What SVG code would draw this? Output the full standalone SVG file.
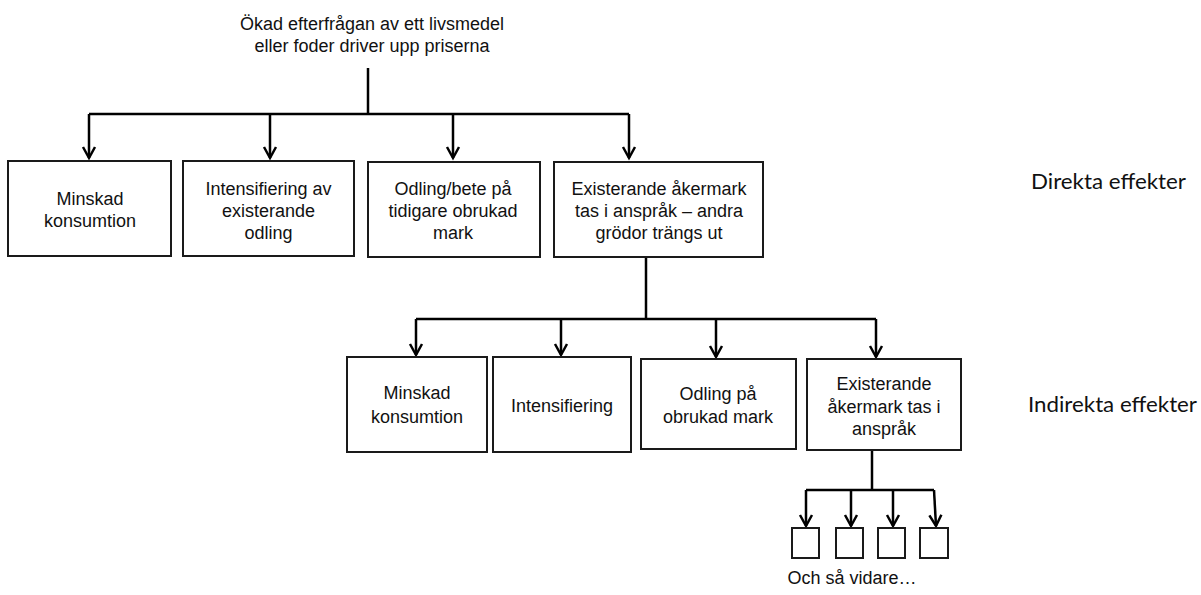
<svg xmlns="http://www.w3.org/2000/svg" width="1201" height="595" viewBox="0 0 1201 595">
<style>
.t{font-family:"Liberation Sans",Arial,sans-serif;font-size:18px;fill:#111;text-anchor:middle}
.s{font-family:Lato,"Open Sans",sans-serif;font-size:22px;fill:#111}
.b{fill:#fff;stroke:#1a1a1a;stroke-width:2}
.c{fill:none;stroke:#000;stroke-width:2.5}
</style>
<defs>
<marker id="arr" markerUnits="userSpaceOnUse" viewBox="-14 -8 16 16" refX="0" refY="0" markerWidth="16" markerHeight="16" orient="auto" overflow="visible">
<path d="M-11,-6 L0,0 L-11,6" fill="none" stroke="#000" stroke-width="2.5"/>
</marker>
</defs>
<rect width="1201" height="595" fill="#fff"/>
<g id="connectors">
<path class="c" d="M368,68 V114"/>
<path class="c" d="M89,114 H629"/>
<path class="c" d="M89,114 V158" marker-end="url(#arr)"/>
<path class="c" d="M270,114 V158" marker-end="url(#arr)"/>
<path class="c" d="M453,114 V158" marker-end="url(#arr)"/>
<path class="c" d="M629,114 V158" marker-end="url(#arr)"/>
<path class="c" d="M646,257 V319"/>
<path class="c" d="M416,319 H876"/>
<path class="c" d="M416,319 V355" marker-end="url(#arr)"/>
<path class="c" d="M561,319 V355" marker-end="url(#arr)"/>
<path class="c" d="M716,319 V357" marker-end="url(#arr)"/>
<path class="c" d="M876,319 V357" marker-end="url(#arr)"/>
<path class="c" d="M872,451 V490"/>
<path class="c" d="M806,490 H934"/>
<path class="c" d="M806,490 V526" marker-end="url(#arr)"/>
<path class="c" d="M851,490 V526" marker-end="url(#arr)"/>
<path class="c" d="M893,490 V526" marker-end="url(#arr)"/>
<path class="c" d="M934,490 L936,526" marker-end="url(#arr)"/>
</g>
<g id="top">
<text class="t" x="372" y="30">Ökad efterfrågan av ett livsmedel</text>
<text class="t" x="372" y="52">eller foder driver upp priserna</text>
</g>
<g id="d1">
<rect class="b" x="8" y="161" width="163" height="95"/>
<text class="t" x="90" y="205">Minskad</text>
<text class="t" x="90" y="227">konsumtion</text>
</g>
<g id="d2">
<rect class="b" x="183" y="161" width="171" height="95"/>
<text class="t" x="268.5" y="195">Intensifiering av</text>
<text class="t" x="268.5" y="217">existerande</text>
<text class="t" x="268.5" y="239">odling</text>
</g>
<g id="d3">
<rect class="b" x="368" y="162" width="172" height="95"/>
<text class="t" x="453" y="195">Odling/bete på</text>
<text class="t" x="453" y="217">tidigare obrukad</text>
<text class="t" x="453" y="239">mark</text>
</g>
<g id="d4">
<rect class="b" x="554" y="162" width="209" height="95"/>
<text class="t" x="659" y="195">Existerande åkermark</text>
<text class="t" x="659" y="217">tas i anspråk – andra</text>
<text class="t" x="659" y="239">grödor trängs ut</text>
</g>
<g id="i1">
<rect class="b" x="347" y="357" width="140" height="95"/>
<text class="t" x="417" y="399">Minskad</text>
<text class="t" x="417" y="423">konsumtion</text>
</g>
<g id="i2">
<rect class="b" x="493" y="357" width="138" height="95"/>
<text class="t" x="562" y="412">Intensifiering</text>
</g>
<g id="i3">
<rect class="b" x="641" y="359" width="155" height="90"/>
<text class="t" x="718" y="400">Odling på</text>
<text class="t" x="718" y="423">obrukad mark</text>
</g>
<g id="i4">
<rect class="b" x="807" y="359" width="154" height="91"/>
<text class="t" x="884" y="390">Existerande</text>
<text class="t" x="884" y="413">åkermark tas i</text>
<text class="t" x="884" y="435">anspråk</text>
</g>
<g id="n1"><rect class="b" x="792" y="528" width="27" height="30"/></g>
<g id="n2"><rect class="b" x="836" y="528" width="27" height="30"/></g>
<g id="n3"><rect class="b" x="878" y="528" width="27" height="30"/></g>
<g id="n4"><rect class="b" x="920" y="528" width="28" height="30"/></g>
<g id="labels">
<text class="t" x="852" y="584">Och så vidare…</text>
<text class="s" x="1031" y="189" textLength="155" lengthAdjust="spacingAndGlyphs">Direkta effekter</text>
<text class="s" x="1028" y="412" textLength="169" lengthAdjust="spacingAndGlyphs">Indirekta effekter</text>
</g>
</svg>
